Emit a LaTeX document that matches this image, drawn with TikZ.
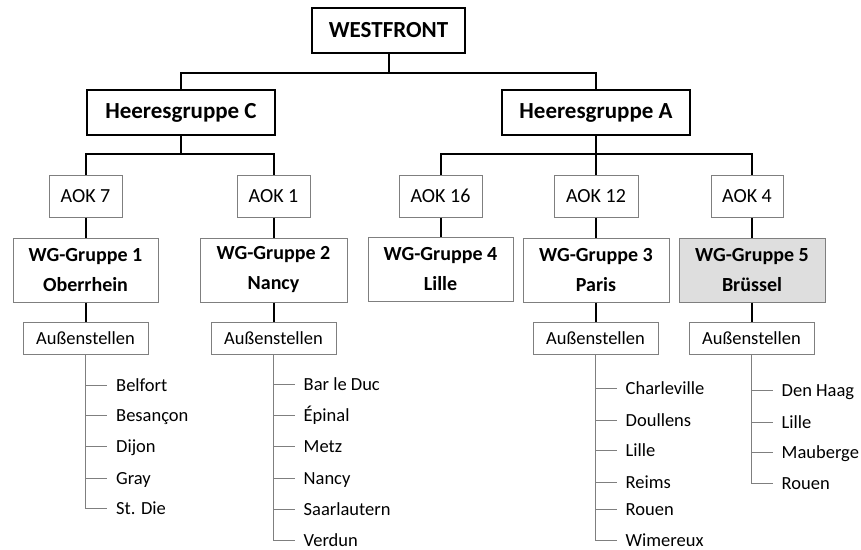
\documentclass[tikz,border=0pt]{standalone}
\usepackage{fontspec}
\setmainfont{Carlito}
\usepackage{tikz}
\usetikzlibrary{positioning}
\definecolor{boxgray}{HTML}{7F7F7F}
\definecolor{boxfill}{HTML}{DEDEDE}
\tikzset{
%Define style for the boxes
top box/.style={draw, line width=2pt, inner sep=0pt, minimum height=45pt,
  font=\bfseries\fontsize{23}{27}\selectfont},
aok box/.style={draw=boxgray, line width=1pt, inner sep=0pt, minimum height=42pt,
  font=\fontsize{20}{24}\selectfont},
wg box/.style={draw=boxgray, line width=1pt, inner sep=0pt, minimum height=64pt,
  align=center, font=\bfseries\fontsize{20}{30}\selectfont},
aus box/.style={draw=boxgray, line width=1pt, inner sep=0pt, minimum width=125pt,
  minimum height=32pt, font=\fontsize{18.5}{22}\selectfont},
city/.style={anchor=west, inner xsep=9pt, inner ysep=0pt, text height=12pt,
  text depth=0pt, font=\fontsize{18.5}{22}\selectfont},
%Define style for the lines
trunk/.style={line width=2pt},
twig/.style={draw=boxgray, line width=1pt},
}

\begin{document}
\begin{tikzpicture}[x=1pt, y=-1pt]
    \useasboundingbox (0,0) rectangle (861,549);
    %Top of the tree
    \node[top box, minimum width=153pt] (west) at (388.5,30) {WESTFRONT};
    \node[top box, minimum width=188pt] (hgc) at (181,112.5) {Heeresgruppe C};
    \node[top box, minimum width=188pt] (hga) at (596,112.5) {Heeresgruppe A};
    \draw[trunk] (west.south) -- ++(0,19) -| (hgc.north);
    \draw[trunk] (west.south) -- ++(0,19) -| (hga.north);
    %Armies
    \node[aok box, minimum width=73pt] (aok7) at (85.5,196) {AOK 7};
    \node[aok box, minimum width=73pt] (aok1) at (273.5,196) {AOK 1};
    \node[aok box, minimum width=83pt] (aok16) at (440.5,196) {AOK 16};
    \node[aok box, minimum width=84pt] (aok12) at (596,196) {AOK 12};
    \node[aok box, minimum width=72pt] (aok4) at (747,196) {AOK 4};
    %Groups
    \node[wg box, minimum width=145pt] (wg1) at (85.5,270) {WG-Gruppe 1\\Oberrhein};
    \node[wg box, minimum width=147pt] (wg2) at (273.5,270) {WG-Gruppe 2\\Nancy};
    \node[wg box, minimum width=145pt] (wg4) at (440.5,269) {WG-Gruppe 4\\Lille};
    \node[wg box, minimum width=146pt] (wg3) at (596,270) {WG-Gruppe 3\\Paris};
    \node[wg box, minimum width=146pt, fill=boxfill] (wg5) at (752,270) {WG-Gruppe 5\\Brüssel};
    \draw[trunk] (hgc.south) -- ++(0,18) -| (aok7.north);
    \draw[trunk] (hgc.south) -- ++(0,18) -| (aok1.north);
    \draw[trunk] (hga.south) -- ++(0,18) -| (aok16.north);
    \draw[trunk] (hga.south) -- (aok12.north);
    \draw[trunk] (hga.south) -- ++(0,18) -| (wg5.north |- aok4.north);
    \draw[trunk] (aok7) -- (wg1);
    \draw[trunk] (aok1) -- (wg2);
    \draw[trunk] (aok16) -- (wg4);
    \draw[trunk] (aok12) -- (wg3);
    \draw[trunk] (wg5.north) -- (wg5.north |- aok4.south);
    %Branch offices
    \node[aus box] (aus1) at (85.5,338) {Außenstellen};
    \node[aus box] (aus2) at (273.5,338) {Außenstellen};
    \node[aus box] (aus3) at (595.5,338) {Außenstellen};
    \node[aus box] (aus5) at (751.5,338) {Außenstellen};
    \draw[trunk] (wg1) -- (aus1);
    \draw[trunk] (wg2) -- (aus2);
    \draw[trunk] (wg3.south) -- (wg3.south |- aus3.north);
    \draw[trunk] (wg5.south) -- (wg5.south |- aus5.north);
    %%Oberrhein
    \node[city] (belfort) at (107,385) {Belfort};
    \node[city] (besancon) at (107,415) {Besançon};
    \node[city] (dijon) at (107,446) {Dijon};
    \node[city] (gray) at (107,478) {Gray};
    \node[city] (stdie) at (107,508) {St. Die};
    \draw[twig] (aus1.south) |- (belfort.west);
    \draw[twig] (aus1.south) |- (besancon.west);
    \draw[twig] (aus1.south) |- (dijon.west);
    \draw[twig] (aus1.south) |- (gray.west);
    \draw[twig] (aus1.south) |- (stdie.west);
    %%Nancy
    \node[city] (barleduc) at (294.5,384) {Bar le Duc};
    \node[city] (epinal) at (294.5,415) {Épinal};
    \node[city] (metz) at (294.5,446) {Metz};
    \node[city] (nancy) at (294.5,478) {Nancy};
    \node[city] (saar) at (294.5,509) {Saarlautern};
    \node[city] (verdun) at (294.5,540) {Verdun};
    \draw[twig] (aus2.south) |- (barleduc.west);
    \draw[twig] (aus2.south) |- (epinal.west);
    \draw[twig] (aus2.south) |- (metz.west);
    \draw[twig] (aus2.south) |- (nancy.west);
    \draw[twig] (aus2.south) |- (saar.west);
    \draw[twig] (aus2.south) |- (verdun.west);
    %%Paris
    \node[city] (charleville) at (616.5,388) {Charleville};
    \node[city] (doullens) at (616.5,420) {Doullens};
    \node[city] (lillep) at (616.5,450) {Lille};
    \node[city] (reims) at (616.5,482) {Reims};
    \node[city] (rouenp) at (616.5,509) {Rouen};
    \node[city] (wimereux) at (616.5,540) {Wimereux};
    \draw[twig] (aus3.south) |- (charleville.west);
    \draw[twig] (aus3.south) |- (doullens.west);
    \draw[twig] (aus3.south) |- (lillep.west);
    \draw[twig] (aus3.south) |- (reims.west);
    \draw[twig] (aus3.south) |- (rouenp.west);
    \draw[twig] (aus3.south) |- (wimereux.west);
    %%Brüssel
    \node[city] (denhaag) at (772.5,390) {Den Haag};
    \node[city] (lilleb) at (772.5,422) {Lille};
    \node[city] (mauberge) at (772.5,452) {Mauberge};
    \node[city] (rouenb) at (772.5,483) {Rouen};
    \draw[twig] (aus5.south) |- (denhaag.west);
    \draw[twig] (aus5.south) |- (lilleb.west);
    \draw[twig] (aus5.south) |- (mauberge.west);
    \draw[twig] (aus5.south) |- (rouenb.west);
\end{tikzpicture}
\end{document}
